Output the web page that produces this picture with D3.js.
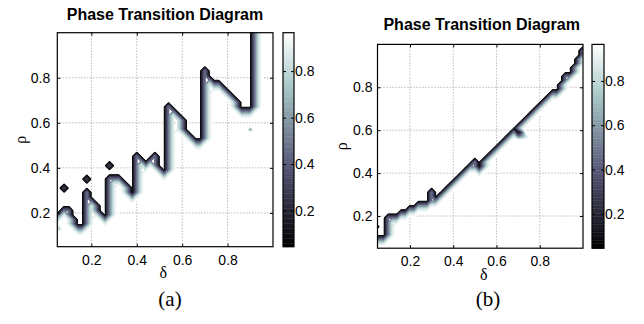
<!DOCTYPE html>
<html>
<head>
<meta charset="utf-8">
<script src="https://cdn.jsdelivr.net/npm/d3@7"></script>
<style>
  body { margin: 0; background: #fff; }
  svg { display: block; }
  .tick text { font-family: "Liberation Sans", Arial, sans-serif; font-size: 14px; fill: #000; }
</style>
</head>
<body>
<svg id="chart" width="644" height="324"></svg>
<script>
// sampling of the (delta, rho) plane: 0.04..1.00 and 0.05..1.01, step 0.02
const deltaStart = 0.04;
const rhoStart = 0.05;
const gridStep = 0.02;
const gridCount = 49;

const axisTicks = [0.2, 0.4, 0.6, 0.8];
const colorTicks = [0.2, 0.4, 0.6, 0.8];
const levels = d3.range(0.05, 0.951, 0.025);

// success rate of the cells one and two steps inside the transition
const edgeRates = [0.45, 0.85];

// rho where recovery stops, one per delta column
const boundaryA = [
  0.20, 0.22, 0.24, 0.225, 0.20, 0.15, 0.15, 0.31, 0.275, 0.245,
  0.21, 0.20, 0.375, 0.375, 0.37, 0.35, 0.33, 0.30, 0.465, 0.45,
  0.43, 0.45, 0.465, 0.42, 0.40, 0.69, 0.67, 0.65, 0.625, 0.57,
  0.555, 0.54, 0.53, 0.855, 0.82, 0.80, 0.80, 0.78, 0.76, 0.74,
  0.72, 0.67, 0.67, 0.67, 1.1, 1.1, 1.1, 1.1, 1.1
];
// isolated cells [delta, rho, success rate]
const spotsA = [
  [0.08, 0.31, 0.3], [0.18, 0.35, 0.3], [0.28, 0.41, 0.3], [0.90, 0.57, 0.4],
  [0.04, 0.15, 0.6], [0.06, 0.13, 0.7], [0.04, 0.11, 0.8]
];

const boundaryB = [
  0.11, 0.11, 0.11, 0.205, 0.21, 0.215, 0.235, 0.235, 0.245, 0.255,
  0.265, 0.27, 0.27, 0.33, 0.30, 0.31, 0.33, 0.35, 0.37, 0.39,
  0.41, 0.43, 0.45, 0.475, 0.44, 0.47, 0.49, 0.51, 0.535, 0.55,
  0.57, 0.59, 0.615, 0.63, 0.65, 0.67, 0.69, 0.71, 0.735, 0.76,
  0.775, 0.785, 0.80, 0.84, 0.87, 0.87, 0.92, 0.955, 0.99
];
const spotsB = [
  [0.04, 0.15, 0.25], [0.70, 0.59, 0.0], [0.72, 0.59, 0.3],
  [0.70, 0.57, 0.4], [0.72, 0.57, 0.6], [0.74, 0.57, 0.8]
];

const panels = [
  { label: '(a)', boundary: boundaryA, spots: spotsA,
    left: 57.3, right: 273, top: 32.7, bottom: 246.7,
    cbLeft: 283, cbRight: 294, titleX: 165, titleY: 20,
    xPad: 8, yPad: 7, deltaX: 163.3, deltaY: 278, rhoX: 26, captionX: 170 },
  { label: '(b)', boundary: boundaryB, spots: spotsB,
    left: 377.5, right: 583, top: 44.4, bottom: 248.2,
    cbLeft: 592, cbRight: 604, titleX: 481.7, titleY: 30,
    xPad: 8, yPad: 5, deltaX: 483.7, deltaY: 280, rhoX: 346.5, captionX: 488 }
];

const bone = d3.scaleLinear()
  .domain([0, 0.375, 0.75, 1])
  .range(['#000000', 'rgb(84,84,116)', 'rgb(167,199,199)', '#ffffff']);
const levelColor = v => bone((v - 0.05) / 0.9);

const svg = d3.select('#chart');

function buildGrid(boundary, spots) {
  const pad = 2;
  const n = gridCount + 2 * pad;
  // 0 = failed cell, otherwise steps away from the nearest failed cell
  const dist = new Uint8Array(n * n);
  for (let r = 0; r < n; r++) {
    const j = Math.max(0, Math.min(gridCount - 1, r - pad));
    const rho = rhoStart + j * gridStep;
    for (let c = 0; c < n; c++) {
      const i = Math.max(0, Math.min(gridCount - 1, c - pad));
      dist[r * n + c] = rho < boundary[i] - 0.0101 ? 255 : 0;
    }
  }
  edgeRates.forEach((rate, step) => {
    const prev = dist.slice();
    for (let r = 0; r < n; r++) {
      for (let c = 0; c < n; c++) {
        const idx = r * n + c;
        if (prev[idx] !== 255) continue;
        const near = (r > 0 && prev[idx - n] === step) || (r < n - 1 && prev[idx + n] === step) ||
          (c > 0 && prev[idx - 1] === step) || (c < n - 1 && prev[idx + 1] === step);
        if (near) dist[idx] = step + 1;
      }
    }
  });
  const values = new Float64Array(n * n);
  for (let idx = 0; idx < n * n; idx++) {
    const d = dist[idx];
    values[idx] = d === 0 ? 0 : d === 255 ? 1 : edgeRates[d - 1];
  }
  spots.forEach(([d, rho, p]) => {
    const c = Math.round((d - deltaStart) / gridStep) + pad;
    const r = Math.round((rho - rhoStart) / gridStep) + pad;
    values[r * n + c] = p;
  });
  return { values, n, pad };
}

panels.forEach((p, k) => {
  const x = d3.scaleLinear().domain([0.05, 1]).range([p.left, p.right]);
  const y = d3.scaleLinear().domain([0.05, 1]).range([p.bottom, p.top]);
  const g = svg.append('g');

  const clipId = 'clip' + k;
  svg.append('clipPath').attr('id', clipId)
    .append('rect')
    .attr('x', p.left).attr('y', p.top)
    .attr('width', p.right - p.left).attr('height', p.bottom - p.top);

  // dotted grid
  g.selectAll('.gx').data(axisTicks).enter().append('line')
    .attr('x1', d => x(d)).attr('x2', d => x(d))
    .attr('y1', p.top).attr('y2', p.bottom)
    .attr('stroke', '#9a9a9a').attr('stroke-width', 1).attr('stroke-dasharray', '1,2');
  g.selectAll('.gy').data(axisTicks).enter().append('line')
    .attr('y1', d => y(d)).attr('y2', d => y(d))
    .attr('x1', p.left).attr('x2', p.right)
    .attr('stroke', '#9a9a9a').attr('stroke-width', 1).attr('stroke-dasharray', '1,2');

  // contour lines
  const grid = buildGrid(p.boundary, p.spots);
  const contours = d3.contours().size([grid.n, grid.n]).thresholds(levels)(grid.values);
  const path = d3.geoPath(d3.geoTransform({
    point(cx, cy) {
      const d = deltaStart + (cx - grid.pad - 0.5) * gridStep;
      const r = rhoStart + (cy - grid.pad - 0.5) * gridStep;
      this.stream.point(x(d), y(r));
    }
  }));
  g.append('g').attr('clip-path', `url(#${clipId})`)
    .selectAll('path').data(contours).enter().append('path')
    .attr('d', path)
    .attr('fill', 'none')
    .attr('stroke', d => levelColor(d.value))
    .attr('stroke-width', 1.5)
    .attr('stroke-linejoin', 'round');

  // axes
  g.append('g').attr('transform', `translate(0,${p.bottom})`)
    .call(d3.axisBottom(x).tickValues(axisTicks).tickFormat(d3.format('.1f'))
      .tickSizeInner(-3).tickSizeOuter(0).tickPadding(p.xPad));
  g.append('g').attr('transform', `translate(${p.left},0)`)
    .call(d3.axisLeft(y).tickValues(axisTicks).tickFormat(d3.format('.1f'))
      .tickSizeInner(-3).tickSizeOuter(0).tickPadding(p.yPad));
  g.append('g').attr('transform', `translate(0,${p.top})`)
    .call(d3.axisTop(x).tickValues(axisTicks).tickFormat('').tickSizeInner(-3).tickSizeOuter(0));
  g.append('g').attr('transform', `translate(${p.right},0)`)
    .call(d3.axisRight(y).tickValues(axisTicks).tickFormat('').tickSizeInner(-3).tickSizeOuter(0));
  g.selectAll('.domain').remove();
  g.selectAll('.tick line').attr('stroke', '#000');

  g.append('rect')
    .attr('x', p.left).attr('y', p.top)
    .attr('width', p.right - p.left).attr('height', p.bottom - p.top)
    .attr('fill', 'none').attr('stroke', '#000').attr('stroke-width', 1.2);

  // colorbar
  const cb = d3.scaleLinear().domain([0.045, 0.965]).range([p.bottom, p.top]);
  const steps = d3.range(0, 128);
  const stepH = (p.bottom - p.top) / steps.length;
  g.selectAll('.cbs').data(steps).enter().append('rect')
    .attr('x', p.cbLeft).attr('width', p.cbRight - p.cbLeft)
    .attr('y', i => p.bottom - (i + 1) * stepH).attr('height', stepH + 0.4)
    .attr('fill', i => bone((i + 0.5) / steps.length));
  g.append('g').attr('transform', `translate(${p.cbRight},0)`)
    .call(d3.axisRight(cb).tickValues(colorTicks).tickFormat(d3.format('.1f'))
      .tickSizeInner(-3).tickSizeOuter(0).tickPadding(1))
    .select('.domain').remove();
  g.append('g').attr('transform', `translate(${p.cbLeft},0)`)
    .call(d3.axisLeft(cb).tickValues(colorTicks).tickFormat('').tickSizeInner(-3).tickSizeOuter(0))
    .select('.domain').remove();
  g.append('rect')
    .attr('x', p.cbLeft).attr('y', p.top)
    .attr('width', p.cbRight - p.cbLeft).attr('height', p.bottom - p.top)
    .attr('fill', 'none').attr('stroke', '#000').attr('stroke-width', 1.2);

  // texts
  g.append('text')
    .attr('x', p.titleX).attr('y', p.titleY)
    .attr('text-anchor', 'middle')
    .style('font-family', '"Liberation Sans", Arial, sans-serif')
    .style('font-weight', 'bold').style('font-size', '16px')
    .text('Phase Transition Diagram');
  g.append('text')
    .attr('x', p.deltaX).attr('y', p.deltaY)
    .attr('text-anchor', 'middle')
    .style('font-family', '"Liberation Serif", "Times New Roman", serif')
    .style('font-size', '16px')
    .text('δ');
  g.append('text')
    .attr('transform', `translate(${p.rhoX},${(p.top + p.bottom) / 2}) rotate(-90)`)
    .attr('text-anchor', 'middle')
    .style('font-family', '"Liberation Serif", "Times New Roman", serif')
    .style('font-size', '16px')
    .text('ρ');
  g.append('text')
    .attr('x', p.captionX).attr('y', 306)
    .attr('text-anchor', 'middle')
    .style('font-family', '"Liberation Serif", "Times New Roman", serif')
    .style('font-size', '21px')
    .text(p.label);
});
</script>
</body>
</html>
